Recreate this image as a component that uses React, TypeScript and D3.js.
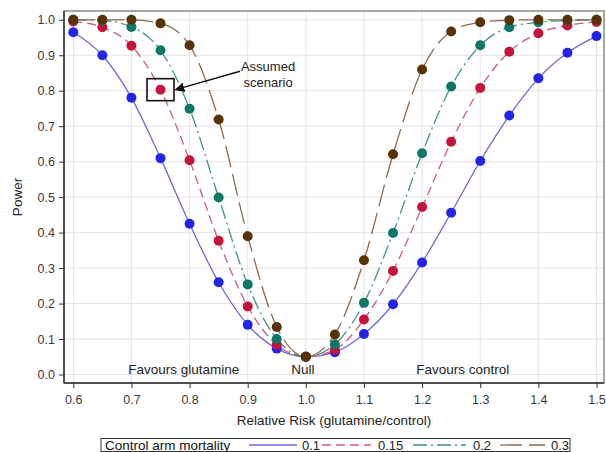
import React, { useEffect, useRef } from 'react';
import * as d3 from 'd3';

// relative risk values (x) shared by every series
const relativeRisk = [
  0.6, 0.65, 0.7, 0.75, 0.8, 0.85, 0.9, 0.95, 1.0, 1.05, 1.1, 1.15, 1.2, 1.25, 1.3, 1.35, 1.4,
  1.45, 1.5,
];

const power01 = [
  0.965, 0.9, 0.78, 0.61, 0.425, 0.26, 0.14, 0.073, 0.05, 0.063, 0.114, 0.198, 0.316, 0.456,
  0.602, 0.73, 0.835, 0.907, 0.954,
];
const power015 = [
  0.995, 0.979, 0.927, 0.803, 0.604, 0.377, 0.192, 0.084, 0.05, 0.07, 0.155, 0.292, 0.472,
  0.656, 0.808, 0.91, 0.962, 0.984, 0.994,
];
const power02 = [
  1.0, 0.998, 0.98, 0.914, 0.749, 0.499, 0.254, 0.1, 0.05, 0.085, 0.202, 0.399, 0.624, 0.812,
  0.928, 0.979, 0.993, 0.998, 1.0,
];
const power03 = [
  1.0, 1.0, 1.0, 0.99, 0.928, 0.719, 0.39, 0.134, 0.05, 0.113, 0.322, 0.621, 0.86, 0.967, 0.993,
  0.999, 1.0, 1.0, 1.0,
];

const seriesNames = ['0.1', '0.15', '0.2', '0.3'];
const seriesValues = [power01, power015, power02, power03];
const lineColors = ['#6b6bd6', '#cc5c78', '#3f9484', '#8c6a4c'];
const markerColors = ['#2424e6', '#c4143c', '#0e7767', '#5a3208'];
const dashes = ['none', '9,5', '14,4,2,4', '22,7'];

const xTicks = [0.6, 0.7, 0.8, 0.9, 1.0, 1.1, 1.2, 1.3, 1.4, 1.5];
const yTicks = [0, 0.1, 0.2, 0.3, 0.4, 0.5, 0.6, 0.7, 0.8, 0.9, 1.0];

// region labels along the bottom of the plot
const regionLabels = ['Favours glutamine', 'Null', 'Favours control'];
const regionX = [0.79, 0.995, 1.27];

// highlighted point (control mortality 0.15, RR 0.75)
const assumedX = 0.75;
const assumedY = 0.803;

const FONT = '"Liberation Sans", Arial, sans-serif';

export default function App() {
  const svgRef = useRef<SVGSVGElement | null>(null);

  useEffect(() => {
    const width = 606;
    const height = 452;
    const svg = d3.select(svgRef.current);
    svg.selectAll('*').remove();
    svg.attr('width', width).attr('height', height).attr('viewBox', `0 0 ${width} ${height}`);

    const frame = { left: 64, right: 604, top: 11, bottom: 383 };

    const x = d3.scaleLinear().domain([0.6, 1.5]).range([73.3, 596.5]);
    const y = d3.scaleLinear().domain([0, 1]).range([374.5, 19.8]);

    const g = svg.append('g').attr('font-family', FONT);

    g.append('rect')
      .attr('x', frame.left)
      .attr('y', frame.top)
      .attr('width', frame.right - frame.left)
      .attr('height', frame.bottom - frame.top)
      .attr('fill', '#fff');

    // gridlines
    g.selectAll('.gx')
      .data(xTicks)
      .join('line')
      .attr('x1', (d) => x(d))
      .attr('x2', (d) => x(d))
      .attr('y1', frame.top)
      .attr('y2', frame.bottom)
      .attr('stroke', '#e4e4e4')
      .attr('stroke-width', 1);
    g.selectAll('.gy')
      .data(yTicks)
      .join('line')
      .attr('x1', frame.left)
      .attr('x2', frame.right)
      .attr('y1', (d) => y(d))
      .attr('y2', (d) => y(d))
      .attr('stroke', '#e4e4e4')
      .attr('stroke-width', 1);

    // frame
    g.append('rect')
      .attr('x', frame.left)
      .attr('y', frame.top)
      .attr('width', frame.right - frame.left)
      .attr('height', frame.bottom - frame.top)
      .attr('fill', 'none')
      .attr('stroke', '#8a8a8a')
      .attr('stroke-width', 1.5);

    // axes
    const xAxis = d3
      .axisBottom(x)
      .tickValues(xTicks)
      .tickSize(5)
      .tickSizeOuter(0)
      .tickFormat(d3.format('.1f'));
    const xg = g.append('g').attr('transform', `translate(0,${frame.bottom})`).call(xAxis);
    xg.select('.domain').attr('d', `M${frame.left},0H${frame.right}`).attr('stroke', '#333').attr('stroke-width', 1.5);
    xg.selectAll('.tick line').attr('stroke', '#333');
    xg.selectAll('.tick text')
      .attr('font-family', FONT)
      .attr('font-size', 12.5)
      .attr('fill', '#3a3a3a')
      .attr('dy', '1.0em');

    const yAxis = d3
      .axisLeft(y)
      .tickValues(yTicks)
      .tickSize(5)
      .tickSizeOuter(0)
      .tickFormat(d3.format('.1f'));
    const yg = g.append('g').attr('transform', `translate(${frame.left},0)`).call(yAxis);
    yg.select('.domain').attr('d', `M0,${frame.top}V${frame.bottom}`).attr('stroke', '#333').attr('stroke-width', 1.5);
    yg.selectAll('.tick line').attr('stroke', '#333');
    yg.selectAll('.tick text')
      .attr('font-family', FONT)
      .attr('font-size', 12.5)
      .attr('fill', '#3a3a3a')
      .attr('x', -9);

    // axis titles
    g.append('text')
      .attr('x', (frame.left + frame.right) / 2)
      .attr('y', 425)
      .attr('text-anchor', 'middle')
      .attr('font-size', 13.5)
      .attr('fill', '#222')
      .text('Relative Risk (glutamine/control)');
    g.append('text')
      .attr('transform', `translate(22,${(frame.top + frame.bottom) / 2}) rotate(-90)`)
      .attr('text-anchor', 'middle')
      .attr('font-size', 13.5)
      .attr('fill', '#222')
      .text('Power');

    // region labels
    regionLabels.forEach((lab, i) => {
      g.append('text')
        .attr('x', x(regionX[i]))
        .attr('y', 374)
        .attr('text-anchor', 'middle')
        .attr('font-size', 13.5)
        .attr('fill', '#222')
        .text(lab);
    });

    // series lines
    const line = d3
      .line<number>()
      .x((_, i) => x(relativeRisk[i]))
      .y((d) => y(d))
      .curve(d3.curveMonotoneX);

    seriesValues.forEach((vals, si) => {
      g.append('path')
        .attr('d', line(vals) || '')
        .attr('fill', 'none')
        .attr('stroke', lineColors[si])
        .attr('stroke-width', 1.3)
        .attr('stroke-dasharray', dashes[si]);
    });
    seriesValues.forEach((vals, si) => {
      g.selectAll(`.m${si}`)
        .data(vals)
        .join('circle')
        .attr('cx', (_, i) => x(relativeRisk[i]))
        .attr('cy', (d) => y(d))
        .attr('r', 5)
        .attr('fill', markerColors[si]);
    });

    // annotation
    const ax = x(assumedX);
    const ay = y(assumedY);
    g.append('rect')
      .attr('x', ax - 13.5)
      .attr('y', ay - 11)
      .attr('width', 27)
      .attr('height', 22)
      .attr('fill', 'none')
      .attr('stroke', '#111')
      .attr('stroke-width', 1.6);

    const defs = svg.append('defs');
    defs
      .append('marker')
      .attr('id', 'arrowhead')
      .attr('viewBox', '0 0 10 10')
      .attr('refX', 9)
      .attr('refY', 5)
      .attr('markerWidth', 7)
      .attr('markerHeight', 7)
      .attr('orient', 'auto')
      .append('path')
      .attr('d', 'M0,0L10,5L0,10Z')
      .attr('fill', '#111');

    const textX = x(0.935);
    g.append('line')
      .attr('x1', textX - 28)
      .attr('y1', y(0.855))
      .attr('x2', ax + 15)
      .attr('y2', ay)
      .attr('stroke', '#111')
      .attr('stroke-width', 1.4)
      .attr('marker-end', 'url(#arrowhead)');
    g.append('text')
      .attr('x', textX)
      .attr('y', y(0.855))
      .attr('text-anchor', 'middle')
      .attr('font-size', 13)
      .attr('fill', '#222')
      .text('Assumed');
    g.append('text')
      .attr('x', textX)
      .attr('y', y(0.81))
      .attr('text-anchor', 'middle')
      .attr('font-size', 13)
      .attr('fill', '#222')
      .text('scenario');

    // legend
    const legend = g.append('g');
    legend
      .append('rect')
      .attr('x', 101)
      .attr('y', 438.5)
      .attr('width', 469)
      .attr('height', 13)
      .attr('fill', '#fff')
      .attr('stroke', '#333')
      .attr('stroke-width', 1);
    legend
      .append('text')
      .attr('x', 105)
      .attr('y', 450)
      .attr('font-size', 13.5)
      .attr('fill', '#111')
      .text('Control arm mortality');

    const sampleStart = [249, 322, 413, 500];
    const sampleEnd = [297, 371, 466, 545];
    const labelStart = [302, 378, 473, 551];
    seriesNames.forEach((name, si) => {
      legend
        .append('line')
        .attr('x1', sampleStart[si])
        .attr('x2', sampleEnd[si])
        .attr('y1', 445)
        .attr('y2', 445)
        .attr('stroke', lineColors[si])
        .attr('stroke-width', 1.3)
        .attr('stroke-dasharray', dashes[si]);
      legend
        .append('text')
        .attr('x', labelStart[si])
        .attr('y', 450)
        .attr('font-size', 13)
        .attr('fill', '#222')
        .text(name);
    });
  }, []);

  return (
    <div style={{ position: 'absolute', left: 0, top: 0 }}>
      <svg ref={svgRef} style={{ display: 'block' }} />
    </div>
  );
}
